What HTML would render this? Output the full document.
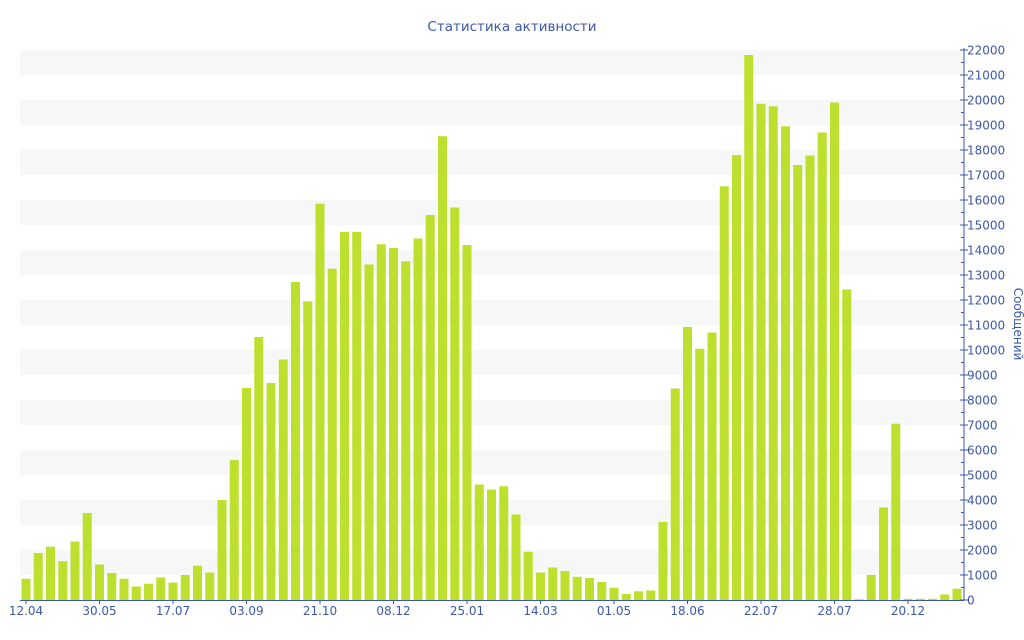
<!DOCTYPE html>
<html><head><meta charset="utf-8"><style>
body{margin:0;background:#fff;width:1024px;height:640px;overflow:hidden}
svg{display:block;font-family:"DejaVu Sans","Liberation Sans",sans-serif}
</style></head><body>
<svg id="c" width="1024" height="640" xmlns="http://www.w3.org/2000/svg"></svg>
<script>
var v=[850,1880,2130,1550,2340,3480,1420,1080,850,540,650,900,700,1000,1370,1100,4000,5600,8480,10520,8680,9620,12720,11940,15850,13250,14720,14720,13420,14230,14080,13550,14460,15400,18550,15700,14200,4620,4420,4550,3420,1930,1100,1300,1160,930,880,720,490,240,350,380,3120,8460,10920,10050,10700,16550,17800,21800,19850,19750,18950,17400,17780,18700,19900,12420,30,1000,3700,7050,50,50,50,220,450];
var labs=["12.04","30.05","17.07","03.09","21.10","08.12","25.01","14.03","01.05","18.06","22.07","28.07","20.12"];
var s='';var col='#3d58a8';
for(var k=0;k<22;k+=2){var y=600-(k+2)*25;s+='<rect x="20" y="'+y+'" width="944" height="25" fill="#f7f7f7"/>';}
for(var i=0;i<v.length;i++){var h=v[i]*0.025;var x=21.5+i*12.25;s+='<rect x="'+x.toFixed(2)+'" y="'+(600-h).toFixed(2)+'" width="9" height="'+h.toFixed(2)+'" fill="#bde02f"/>';}
s+='<line x1="964" y1="48" x2="964" y2="600" stroke="'+col+'"/>';
s+='<line x1="20" y1="600.5" x2="964" y2="600.5" stroke="'+col+'"/>';
for(var k=0;k<=22;k++){var y=600-k*25;s+='<line x1="960" y1="'+y+'" x2="968" y2="'+y+'" stroke="'+col+'"/>';s+='<text x="967" y="'+(y+4.5)+'" font-size="12" fill="'+col+'">'+(k*1000)+'</text>';if(k<22)s+='<line x1="961" y1="'+(y-12.5)+'" x2="964" y2="'+(y-12.5)+'" stroke="'+col+'"/>';}
for(var j=0;j<labs.length;j++){var x=21.5+j*6*12.25+4.5;s+='<line x1="'+x+'" y1="600" x2="'+x+'" y2="604" stroke="'+col+'"/><text x="'+x+'" y="615" font-size="12" fill="'+col+'" text-anchor="middle">'+labs[j]+'</text>';}
s+='<text x="512" y="31" font-size="13.5" fill="'+col+'" text-anchor="middle">Статистика активности</text>';
s+='<text transform="translate(1014,324) rotate(90)" font-size="12" fill="'+col+'" text-anchor="middle">Сообщений</text>';
document.getElementById('c').innerHTML=s;
</script>
</body></html>
